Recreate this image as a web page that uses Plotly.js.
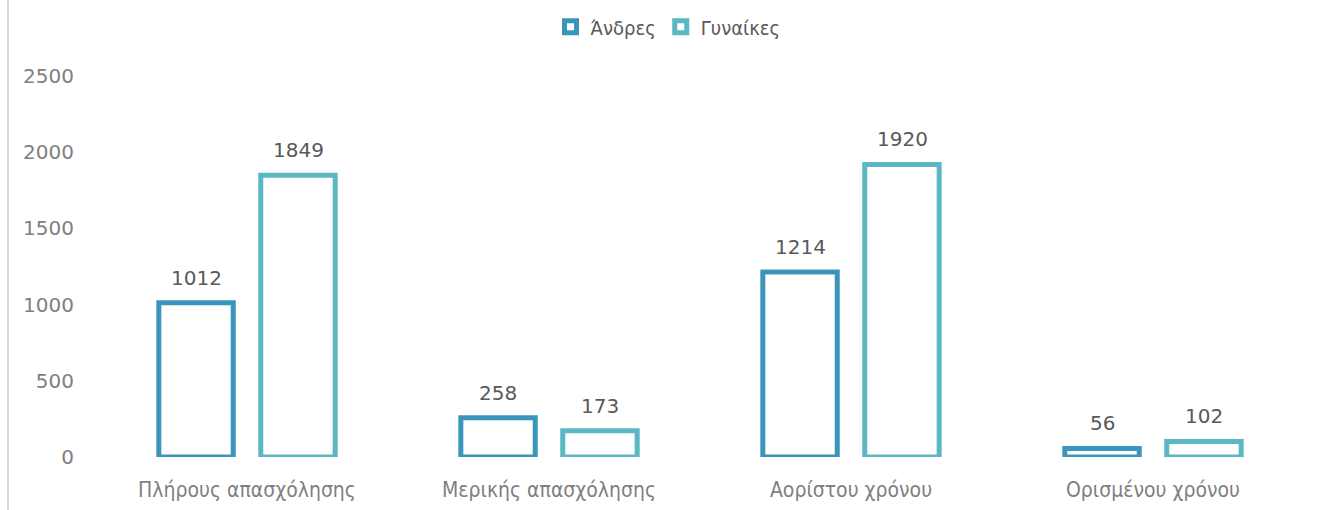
<!DOCTYPE html>
<html>
<head>
<meta charset="utf-8">
<script src="https://cdn.plot.ly/plotly-3.0.1.min.js"></script>
<style>html,body{margin:0;padding:0;background:#fff;}#chart{width:1320px;height:510px;}</style>
</head>
<body>
<div id="chart"></div>
<script>
const categories = ["Πλήρους απασχόλησης", "Μερικής απασχόλησης", "Αορίστου χρόνου", "Ορισμένου χρόνου"];
const seriesNames = ["Άνδρες", "Γυναίκες"];
const men = [1012, 258, 1214, 56];
const women = [1849, 173, 1920, 102];
const yTicks = [0, 500, 1000, 1500, 2000, 2500];

const colors = ["#3a95bd", "#5ab7c3"];
const numFont = "DejaVu Sans, Liberation Sans, sans-serif";
const txtFont = "DejaVu Sans Condensed, DejaVu Sans, sans-serif";

const traces = [men, women].map((vals, i) => ({
  type: "bar",
  name: seriesNames[i],
  x: categories,
  y: vals,
  marker: { color: "#ffffff", line: { color: colors[i], width: 5 } },
  hoverinfo: "none"
}));

const annotations = [];
[men, women].forEach((vals, i) => {
  vals.forEach((v, j) => {
    annotations.push({
      xref: "x", yref: "y", x: categories[j], y: v,
      text: String(v), showarrow: false,
      xshift: i === 0 ? -51 : 51, yshift: 25, yanchor: "middle",
      font: { family: numFont, size: 20, color: "#595959" }
    });
  });
});

const layout = {
  width: 1320, height: 510,
  autosize: false,
  margin: { l: 96, r: 16, t: 76, b: 53, autoexpand: false },
  paper_bgcolor: "#ffffff", plot_bgcolor: "#ffffff",
  barmode: "group", bargap: 0.325, bargroupgap: 0.27,
  showlegend: true,
  legend: {
    orientation: "h", x: (668 - 96) / 1208, xanchor: "center",
    y: 1.129, yanchor: "middle",
    font: { family: txtFont, size: 20, color: "#595959" },
    itemclick: false
  },
  xaxis: {
    type: "category", showgrid: false, zeroline: false, showline: false,
    ticks: "", tickangle: 0, automargin: false, ticklabelstandoff: 18,
    tickfont: { family: txtFont, size: 21, color: "#7f7f7f" }
  },
  yaxis: {
    range: [0, 2500], tickvals: yTicks, ticktext: yTicks.map(String),
    showgrid: false, zeroline: false, showline: false, ticks: "",
    automargin: false, ticklabelstandoff: 21,
    tickfont: { family: numFont, size: 20, color: "#808080" }
  },
  shapes: [{
    type: "line", xref: "paper", yref: "paper",
    x0: -88 / 1208, x1: -88 / 1208, y0: -53 / 381, y1: 1 + 76 / 381,
    line: { color: "#d9d9d9", width: 2 }
  }],
  annotations: annotations
};

Plotly.newPlot("chart", traces, layout, { staticPlot: true, displayModeBar: false });
</script>
</body>
</html>
